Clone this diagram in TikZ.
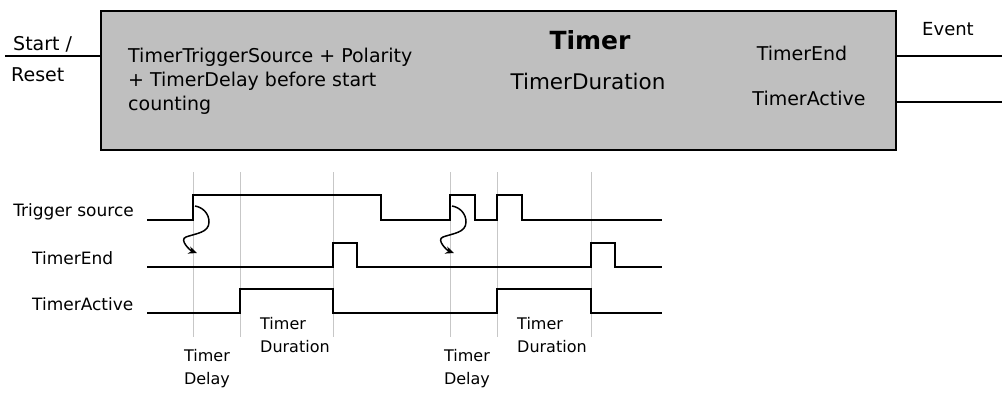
\documentclass[tikz,border=0pt]{standalone}
\usepackage{fontspec}
\setmainfont{DejaVu Sans}
\usetikzlibrary{arrows.meta,positioning}

\begin{document}
\begin{tikzpicture}[
  x=1pt, y=-1pt,
  sig/.style={line width=1.6pt, line join=miter},
  gridline/.style={draw=black!22, line width=1pt},
  boxtxt/.style={font=\fontsize{19}{24}\selectfont, align=left, inner sep=0pt},
  lbl/.style={font=\fontsize{16}{23}\selectfont, inner sep=0pt},
  >={Stealth[length=3mm, width=2.6mm]}]
  \useasboundingbox (0,0) rectangle (1002,392);
  % timer block
  \node[draw, line width=1.6pt, fill=black!25, anchor=north west,
        minimum width=795, minimum height=139] (timer) at (100,10) {};
  \node[boxtxt, anchor=north west] (trig) at (128,48)
       {TimerTriggerSource + Polarity\\+ TimerDelay before start\\counting};
  \node[font=\bfseries\fontsize{25}{28}\selectfont, inner sep=0pt] (title) at (590,40) {Timer};
  \node[font=\fontsize{21.5}{24}\selectfont, inner sep=0pt] (dur) at (588,81) {TimerDuration};
  \node[boxtxt] (tend) at (802,53) {TimerEnd};
  \node[boxtxt] (tact) at (809,98) {TimerActive};
  % inputs and outputs
  \coordinate (sr) at (5,56);
  \draw[sig] (sr) -- (sr -| timer.west);
  \node[boxtxt, font=\fontsize{19}{20}\selectfont, anchor=west] (start) at (13,44) {Start /};
  \node[boxtxt, font=\fontsize{19}{20}\selectfont, anchor=west] (reset) at (11,75) {Reset};
  \coordinate (ev1) at (1002,56);
  \coordinate (ev2) at (1002,102);
  \draw[sig] (timer.east |- ev1) -- (ev1);
  \draw[sig] (timer.east |- ev2) -- (ev2);
  \node[boxtxt, font=\fontsize{18}{20}\selectfont] (event) at (948,29) {Event};
  % timing diagram
  \foreach \t in {193,240,333,450,497,591}
    \draw[gridline] (\t,172) -- (\t,337);
  \node[lbl, font=\fontsize{17}{20}\selectfont, anchor=east] (s1) at (134,212) {Trigger source};
  \node[lbl, font=\fontsize{17}{20}\selectfont, anchor=west] (s2) at (32,258) {TimerEnd};
  \node[lbl, font=\fontsize{17}{20}\selectfont, anchor=west] (s3) at (32,304) {TimerActive};
  \draw[sig] (147,220) -- (193,220) -- (193,195) -- (381,195) -- (381,220)
    -- (450,220) -- (450,195) -- (475,195) -- (475,220) -- (497,220)
    -- (497,195) -- (522,195) -- (522,220) -- (662,220);
  \draw[sig] (147,267) -- (333,267) -- (333,243) -- (357,243) -- (357,267)
    -- (591,267) -- (591,243) -- (615,243) -- (615,267) -- (662,267);
  \draw[sig] (147,313) -- (240,313) -- (240,289) -- (333,289) -- (333,313)
    -- (497,313) -- (497,289) -- (591,289) -- (591,313) -- (662,313);
  \foreach \dx in {0,257}
    \draw[->, line width=1.5pt, shift={(\dx,0)}] (195,206)
      to[out=-10,in=90] (209,222) to[out=-90,in=20] (186,237)
      to[out=-160,in=160] (197,253);
  \node[lbl, align=center] (d1) at (207,369) {Timer\\Delay};
  \node[lbl, align=left, anchor=west] (u1) at (260,335) {Timer\\Duration};
  \node[lbl, align=center] (d2) at (467,369) {Timer\\Delay};
  \node[lbl, align=left, anchor=west] (u2) at (517,335) {Timer\\Duration};
\end{tikzpicture}
\end{document}
